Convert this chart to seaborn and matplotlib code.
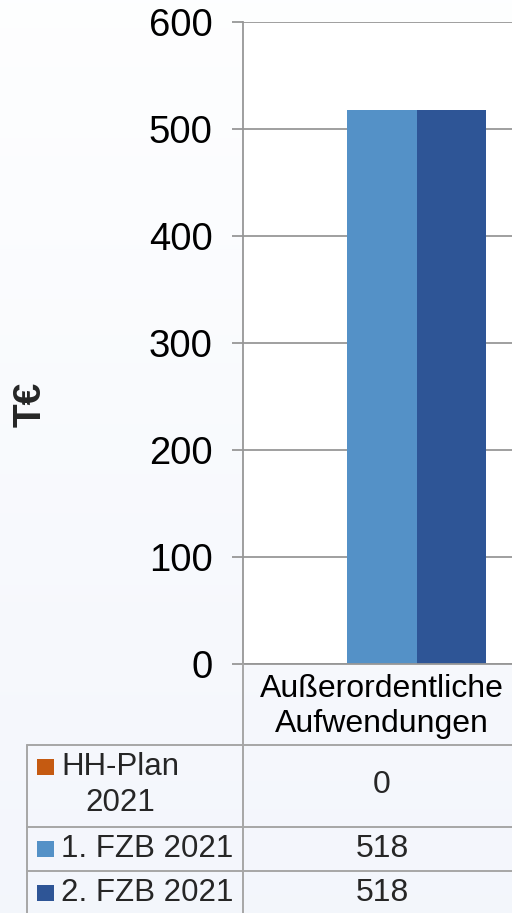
import numpy as np
import pandas as pd
import matplotlib
matplotlib.use("Agg")
import matplotlib.pyplot as plt
import seaborn as sns
from matplotlib.lines import Line2D
from matplotlib.patches import Rectangle

# data
categories = ["Außerordentliche\nAufwendungen"]
series = ["HH-Plan 2021", "1. FZB 2021", "2. FZB 2021"]
values = [0, 518, 518]
table_labels = ["HH-Plan\n2021", "1. FZB 2021", "2. FZB 2021"]
colors = ["#C55A11", "#5491C7", "#2E5596"]
yticks = [0, 100, 200, 300, 400, 500, 600]

W, H = 512, 913

def fx(px):
    return px / W

def fy(py):
    return 1 - py / H

sns.set_theme(style="white")
plt.rcParams["font.family"] = ["Liberation Sans", "DejaVu Sans"]

df = pd.DataFrame({
    "kategorie": categories * len(series),
    "serie": series,
    "wert": values,
})

fig = plt.figure(figsize=(W / 100, H / 100), dpi=100)

# leichter Verlauf im Hintergrund
bg = fig.add_axes([0, 0, 1, 1], zorder=-5)
grad = np.linspace(0, 1, 256).reshape(-1, 1)
top_c = np.array([0.995, 0.997, 1.0])
bot_c = np.array([0.955, 0.965, 0.988])
img = top_c + (bot_c - top_c) * grad[:, :, None]
bg.imshow(img, aspect="auto", extent=[0, 1, 0, 1])
bg.axis("off")

ax = fig.add_axes([fx(243), fy(664), 278 / W, (664 - 22.5) / H])
ax.set_facecolor("white")
sns.barplot(data=df, x="kategorie", y="wert", hue="serie", palette=colors,
            width=0.745, gap=0, saturation=1, ax=ax, legend=False,
            errorbar=None, linewidth=0)

ax.set_ylim(0, 600)
ax.set_xlim(-0.5, 0.5)
ax.set_yticks(yticks)
ax.set_yticklabels([str(t) for t in yticks], fontsize=27.5)
ax.yaxis.grid(True, color="#979797", linewidth=1.3)
ax.set_axisbelow(True)
ax.tick_params(axis="y", length=8, width=1.3, color="#979797", pad=14,
               left=True, labelcolor="black")
ax.tick_params(axis="x", length=0, pad=7, labelsize=23, labelcolor="black")
for lbl in ax.get_xticklabels():
    lbl.set_linespacing(1.25)
ax.set_xlabel("")
ax.set_ylabel("")
for s in ["top", "right"]:
    ax.spines[s].set_visible(False)
ax.spines["left"].set_color("#979797")
ax.spines["left"].set_linewidth(1.3)
ax.spines["bottom"].set_color("#979797")
ax.spines["bottom"].set_linewidth(1.3)

fig.text(fx(31), fy(404), "T€", rotation=90, fontsize=28, fontweight="bold",
         ha="center", va="center")

# Datentabelle unter dem Diagramm
line_kw = dict(color="#a6a6a6", linewidth=1.4, transform=fig.transFigure)
fig.add_artist(Line2D([fx(243), fx(243)], [fy(664), fy(920)], **line_kw))
fig.add_artist(Line2D([fx(27), fx(27)], [fy(745), fy(920)], **line_kw))
for yy in [745, 827, 871]:
    fig.add_artist(Line2D([fx(27), fx(520)], [fy(yy), fy(yy)], **line_kw))

label_y = [785, 849, 893]
marker_y = [767, 849, 893]
for i, (lab, val) in enumerate(zip(table_labels, values)):
    fig.add_artist(Rectangle((fx(37), fy(marker_y[i] + 8)), 17 / W, 16 / H,
                             transform=fig.transFigure, color=colors[i],
                             linewidth=0))
    if "\n" in lab:
        fig.text(fx(120), fy(label_y[i]), lab, fontsize=22.5, ha="center",
                 va="center", multialignment="center", linespacing=1.25)
    else:
        fig.text(fx(61), fy(label_y[i]), lab, fontsize=22.5, ha="left",
                 va="center")
    fig.text(fx(382), fy(label_y[i]), f"{val:.0f}", fontsize=23,
             ha="center", va="center")

fig.savefig("out.png", dpi=100)
